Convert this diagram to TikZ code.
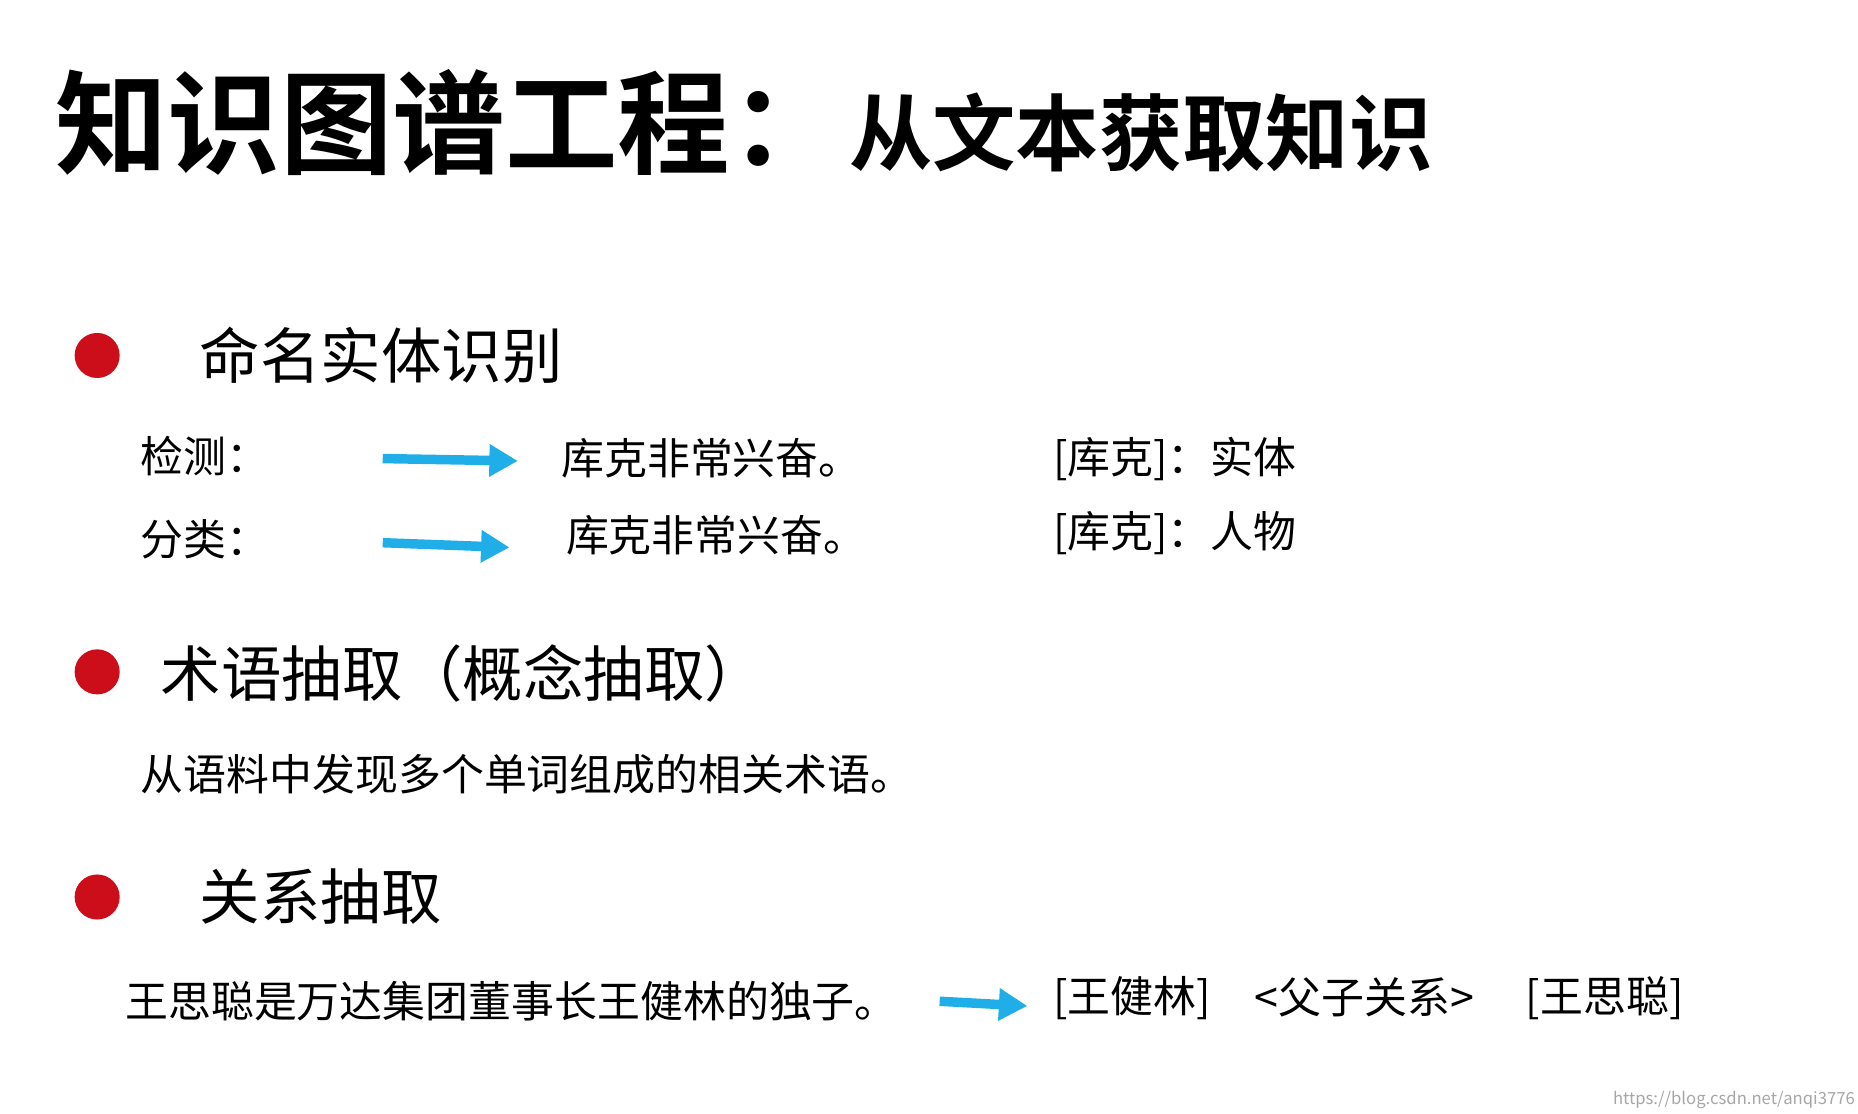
\documentclass[tikz,border=0pt]{standalone}
\usepackage{fontspec}
\setmainfont{Noto Sans CJK SC}
\newfontfamily\cjkb{Noto Sans CJK SC}[BoldFont={* Bold}]
\usetikzlibrary{arrows.meta}
\definecolor{bulred}{HTML}{CC0E1A}
\definecolor{arrblue}{HTML}{1FAEE8}
\tikzset{
  bul/.style={circle,fill=bulred,minimum size=0.38cm,inner sep=0},
  head/.style={anchor=west,inner sep=0,font=\fontsize{14.5pt}{16pt}\selectfont},
  body/.style={anchor=west,inner sep=0,font=\fontsize{10.3pt}{11pt}\selectfont},
  barrow/.style={draw=arrblue,line width=0.8mm,-{Triangle[length=2.4mm,width=2.6mm]}}
}
\begin{document}
\begin{tikzpicture}[x=0.01cm,y=-0.01cm]
\useasboundingbox (0,0) rectangle (1568,940);
\node[anchor=west,inner sep=0,font=\cjkb\bfseries\fontsize{27pt}{29pt}\selectfont] (t1) at (46,103) {知识图谱工程：};
\node[anchor=west,inner sep=0,font=\cjkb\bfseries\fontsize{20pt}{21pt}\selectfont] (t2) at (716,112) {从文本获取知识};
\node[bul] (b1) at (82,300) {};
\node[bul] (b2) at (82,567) {};
\node[bul] (b3) at (82,757) {};
\node[head] (h1) at (168,300) {命名实体识别};
\node[head] (h2) at (135,568) {术语抽取（概念抽取）};
\node[head] (h3) at (168,757) {关系抽取};
\node[body] (d1) at (118,385) {检测：};
\coordinate (a1s) at (323,387); \coordinate (a1e) at (437,389);
\draw[barrow] (a1s) -- (a1e);
\node[body] (s1) at (473,387) {库克非常兴奋。};
\node[body] (r1) at (888,387) {[库克]：实体};
\node[body] (d2) at (118,455) {分类：};
\coordinate (a2s) at (323,458); \coordinate (a2e) at (430,462);
\draw[barrow] (a2s) -- (a2e);
\node[body] (s2) at (477,452) {库克非常兴奋。};
\node[body] (r2) at (888,450) {[库克]：人物};
\node[body] (t3) at (118,653) {从语料中发现多个单词组成的相关术语。};
\node[body] (s3) at (105,845) {王思聪是万达集团董事长王健林的独子。};
\coordinate (a3s) at (793,845); \coordinate (a3e) at (867,849);
\draw[barrow] (a3s) -- (a3e);
\node[body] (e1) at (888,842) {[王健林]};
\node[body] (e2) at (1058,842) {<父子关系>};
\node[body] (e3) at (1287,842) {[王思聪]};
\node[anchor=east,inner sep=0,text=gray!70,font=\fontsize{4pt}{5pt}\selectfont] (wm) at (1566,928) {https://blog.csdn.net/anqi3776};
\end{tikzpicture}
\end{document}
